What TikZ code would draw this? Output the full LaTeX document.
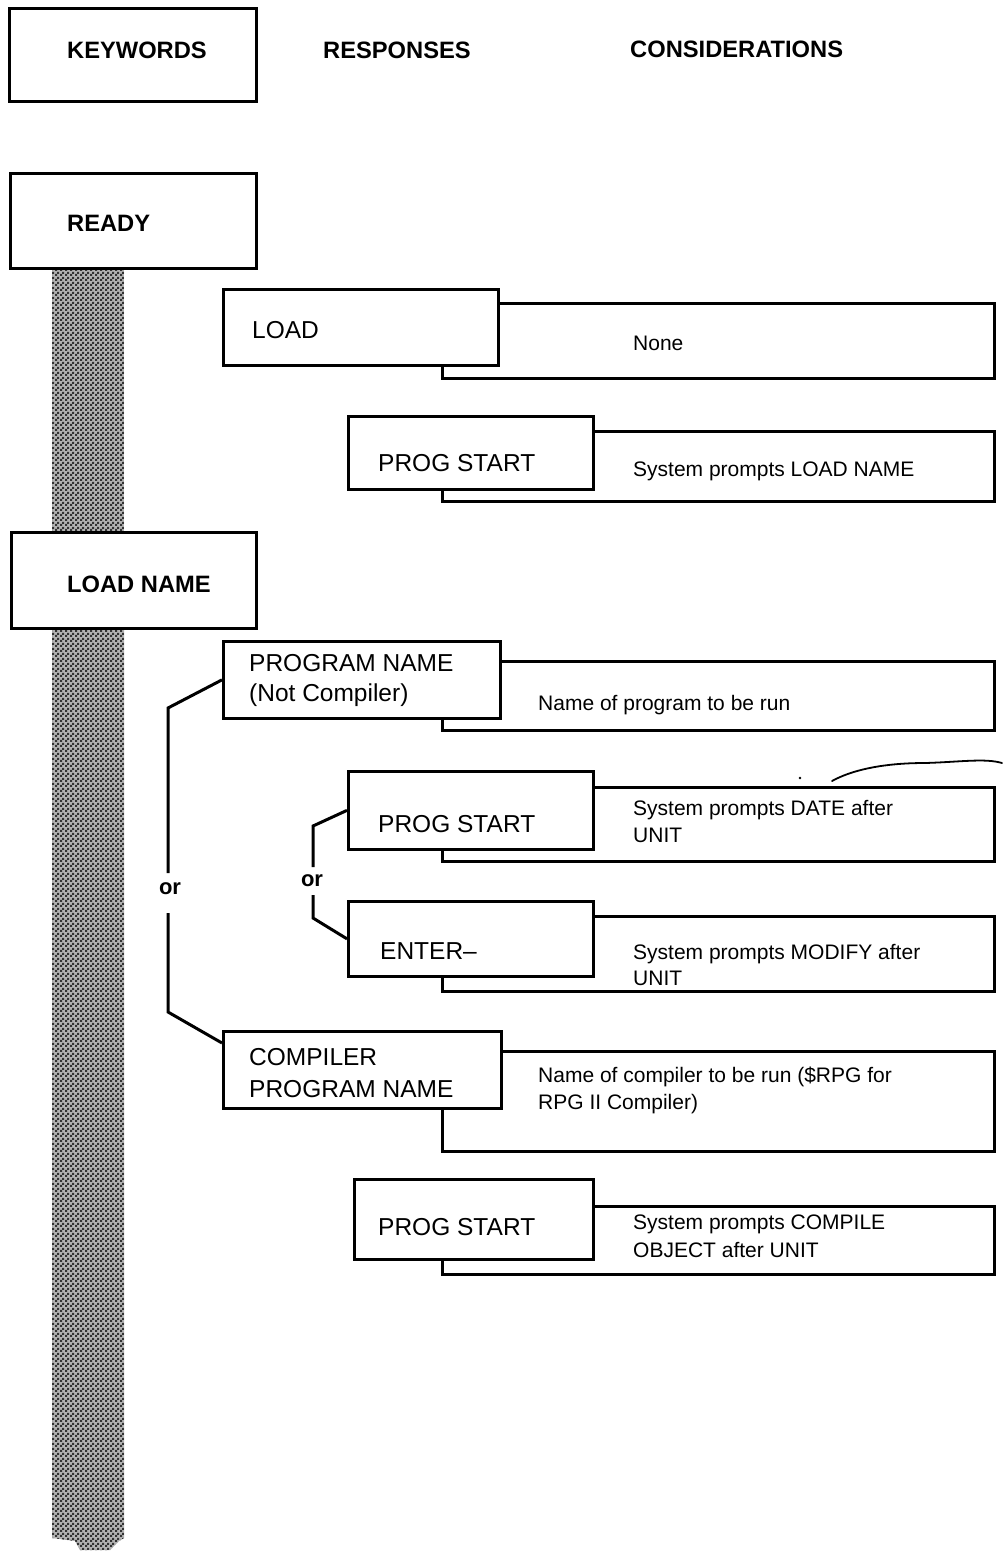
\documentclass[tikz,border=0pt]{standalone}
\usepackage{fontspec}
\setmainfont{Liberation Sans}
\usetikzlibrary{patterns}

% checkerboard screen for the keyword bar
\pgfdeclarepatternformonly{checker}{\pgfpointorigin}{\pgfpoint{5pt}{5pt}}{\pgfpoint{5pt}{5pt}}{%
  \pgfpathrectangle{\pgfpointorigin}{\pgfpoint{2.5pt}{2.5pt}}%
  \pgfpathrectangle{\pgfpoint{2.5pt}{2.5pt}}{\pgfpoint{2.5pt}{2.5pt}}%
  \pgfusepath{fill}}

\tikzset{
  frame/.style={draw, line width=2.7pt, fill=white, inner sep=0pt, anchor=north west},
  hdr/.style={font=\fontsize{23.7}{28}\selectfont\bfseries, inner sep=0pt, anchor=base west},
  keytxt/.style={font=\fontsize{24.5}{30}\selectfont, inner sep=0pt, anchor=base west},
  resptxt/.style={font=\fontsize{21}{26}\selectfont, inner sep=0pt, anchor=base west},
  ortxt/.style={font=\fontsize{22}{26}\selectfont\bfseries, inner sep=0pt},
  brace/.style={line width=3pt, line join=miter},
  bar/.style={fill=black!30, postaction={pattern=checker, pattern color=black!80}},
}

\begin{document}
\begin{tikzpicture}[x=1pt, y=-1pt]
\useasboundingbox (0,0) rectangle (1002,1551);

% shaded keyword bar
\path[bar] (52,260) rectangle (124,540);
\path[bar]
  (52,620) -- (124,620) -- (124,1538) -- (119,1541) -- (110,1550)
  -- (80,1550) -- (75,1541) -- (52,1538) -- cycle;

% column headings
\node[frame, minimum width=247pt, minimum height=93pt] (kw) at (8,7) {};
\node[hdr] (kwt) at (67,58) {KEYWORDS};
\node[hdr] (rst) at (323,58) {RESPONSES};
\node[hdr] (cst) at (630,57) {CONSIDERATIONS};

% keyword READY
\node[frame, minimum width=246pt, minimum height=95pt] (rdy) at (9,172) {};
\node[hdr] (rdyt) at (67,231) {READY};

% LOAD
\node[frame, minimum width=552pt, minimum height=75pt] (c1) at (441,302) {};
\node[frame, minimum width=275pt, minimum height=76pt] (k1) at (222,288) {};
\node[keytxt] (k1t) at (252,338) {LOAD};
\node[resptxt] (c1t) at (633,350) {None};

% PROG START
\node[frame, minimum width=552pt, minimum height=70pt] (c2) at (441,430) {};
\node[frame, minimum width=245pt, minimum height=73pt] (k2) at (347,415) {};
\node[keytxt] (k2t) at (378,471) {PROG START};
\node[resptxt] (c2t) at (633,476) {System prompts LOAD NAME};

% keyword LOAD NAME
\node[frame, minimum width=245pt, minimum height=96pt] (ln) at (10,531) {};
\node[hdr] (lnt) at (67,592) {LOAD NAME};

% PROGRAM NAME (Not Compiler)
\node[frame, minimum width=552pt, minimum height=69pt] (c3) at (441,660) {};
\node[frame, minimum width=277pt, minimum height=77pt] (k3) at (222,640) {};
\node[keytxt] (k3a) at (249,671) {PROGRAM NAME};
\node[keytxt] (k3b) at (249,701) {(Not Compiler)};
\node[resptxt] (c3t) at (538,710) {Name of program to be run};

% PROG START
\node[frame, minimum width=552pt, minimum height=74pt] (c4) at (441,786) {};
\node[frame, minimum width=245pt, minimum height=78pt] (k4) at (347,770) {};
\node[keytxt] (k4t) at (378,832) {PROG START};
\node[resptxt] (c4a) at (633,815) {System prompts DATE after};
\node[resptxt] (c4b) at (633,842) {UNIT};

% ENTER-
\node[frame, minimum width=552pt, minimum height=75pt] (c5) at (441,915) {};
\node[frame, minimum width=245pt, minimum height=75pt] (k5) at (347,900) {};
\node[keytxt] (k5t) at (380,959) {ENTER\textendash};
\node[resptxt] (c5a) at (633,959) {System prompts MODIFY after};
\node[resptxt] (c5b) at (633,985) {UNIT};

% COMPILER PROGRAM NAME
\node[frame, minimum width=552pt, minimum height=100pt] (c6) at (441,1050) {};
\node[frame, minimum width=278pt, minimum height=77pt] (k6) at (222,1030) {};
\node[keytxt] (k6a) at (249,1065) {COMPILER};
\node[keytxt] (k6b) at (249,1097) {PROGRAM NAME};
\node[resptxt] (c6a) at (538,1082) {Name of compiler to be run (\$RPG for};
\node[resptxt] (c6b) at (538,1109) {RPG II Compiler)};

% PROG START
\node[frame, minimum width=552pt, minimum height=68pt] (c7) at (441,1205) {};
\node[frame, minimum width=239pt, minimum height=80pt] (k7) at (353,1178) {};
\node[keytxt] (k7t) at (378,1235) {PROG START};
\node[resptxt] (c7a) at (633,1229) {System prompts COMPILE};
\node[resptxt] (c7b) at (633,1257) {OBJECT after UNIT};

% alternative brackets, broken around their "or"
\node[ortxt] (orA) at (170,889) {or};
\coordinate (a1) at (168,708);
\coordinate (a2) at (168,873);
\coordinate (a3) at (168,913);
\coordinate (a4) at (168,1012);
\draw[brace] (k3.west) -- (a1) -- (a2);
\draw[brace] (a3) -- (a4) -- (k6.west |- 0,1043);

\node[ortxt] (orB) at (312,881) {or};
\coordinate (b1) at (313,826);
\coordinate (b2) at (313,867);
\coordinate (b3) at (313,895);
\coordinate (b4) at (313,918);
\draw[brace] (k4.west) -- (b1) -- (b2);
\draw[brace] (b3) -- (b4) -- (k5.west);

% pen stroke over the DATE row
\draw[line width=1.8pt, line cap=round]
  (832,781) .. controls (850,771) and (880,763) .. (925,763)
  .. controls (960,762) and (985,758) .. (1002,763);
\fill (800,778) circle (1.3pt);
\end{tikzpicture}
\end{document}
